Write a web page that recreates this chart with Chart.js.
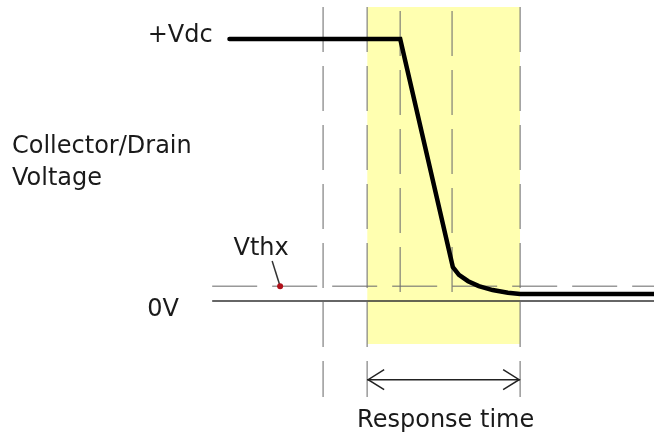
<!DOCTYPE html>
<html>
<head>
<meta charset="utf-8">
<script src="https://cdn.jsdelivr.net/npm/chart.js"></script>
<style>
  body { margin: 0; background: #fff; }
  #wrap { width: 654px; height: 435px; }
</style>
</head>
<body>
<div id="wrap"><canvas id="chart"></canvas></div>
<script>
// time in arbitrary units (response time = 10), voltage normalised (+Vdc = 1)
const waveT = [-9, 2.16, 5.6, 6.0, 6.6, 7.3, 8.2, 9.2, 10, 18.75];
const waveV = [1, 1, 0.13, 0.10, 0.076, 0.057, 0.042, 0.032, 0.027, 0.027];

const markerLong = [-2.88, 0, 10];      // dashed verticals reaching below the box
const markerShort = [2.16, 5.55];       // dashed verticals stopping at 0V
const vthx = 0.057;
const vthxDot = -5.69;
const vthxLabel = [-6.21, 0.153];
const responseStart = 0;
const responseEnd = 10;
const lineStart = -10.13;
const tMin = -24, tMax = 18.75;
const vMin = -0.511, vMax = 1.149;
const boxTop = 1.122, boxBottom = -0.164;
const longBottom = -0.366, shortTop = 1.107;
const arrowV = -0.30;

const labels = {
  vdc: "+Vdc",
  zero: "0V",
  axis: ["Collector/Drain", "Voltage"],
  thx: "Vthx",
  resp: "Response time"
};

const dashCol = "rgba(110,110,110,0.7)";
let datasets = [];

// yellow response window
datasets.push({
  data: [{x: responseStart, y: boxTop}, {x: responseEnd, y: boxTop}],
  fill: {value: boxBottom},
  backgroundColor: "rgb(255,255,176)",
  borderWidth: 0,
  pointRadius: 0,
  order: 10
});

markerLong.forEach(function (t) {
  datasets.push({
    data: [{x: t, y: boxTop}, {x: t, y: longBottom}],
    borderColor: dashCol, borderWidth: 1.5, borderDash: [45, 14],
    pointRadius: 0, order: 6
  });
});
markerShort.forEach(function (t) {
  datasets.push({
    data: [{x: t, y: shortTop}, {x: t, y: 0}],
    borderColor: dashCol, borderWidth: 1.5, borderDash: [45, 14],
    pointRadius: 0, order: 6
  });
});

// Vthx level
datasets.push({
  data: [{x: lineStart, y: vthx}, {x: tMax, y: vthx}],
  borderColor: dashCol, borderWidth: 1.5, borderDash: [45, 15],
  pointRadius: 0, order: 5
});
// 0V line
datasets.push({
  data: [{x: lineStart, y: 0}, {x: tMax, y: 0}],
  borderColor: "#333", borderWidth: 1.5,
  pointRadius: 0, order: 4
});
// waveform
datasets.push({
  data: waveT.map(function (t, i) { return {x: t, y: waveV[i]}; }),
  borderColor: "#000", borderWidth: 4.5, borderCapStyle: "round", borderJoinStyle: "miter",
  pointRadius: 0, tension: 0, order: 1
});
// leader + dot
datasets.push({
  data: [{x: vthxLabel[0], y: vthxLabel[1]}, {x: vthxDot, y: vthx}],
  borderColor: "#333", borderWidth: 1.5, pointRadius: 0, order: 2
});
datasets.push({
  data: [{x: vthxDot, y: vthx}],
  showLine: false, pointRadius: 3, pointBackgroundColor: "#b0101a",
  pointBorderWidth: 0, order: 0
});
// arrow shaft
datasets.push({
  data: [{x: responseStart, y: arrowV}, {x: responseEnd, y: arrowV}],
  borderColor: "#222", borderWidth: 1.5, pointRadius: 0, order: 2
});

const textPlugin = {
  id: "textPlugin",
  afterDraw: function (chart) {
    const ctx = chart.ctx;
    const xs = chart.scales.x, ys = chart.scales.y;
    ctx.save();
    // arrow heads
    ctx.strokeStyle = "#222";
    ctx.lineWidth = 1.5;
    const ay = ys.getPixelForValue(arrowV);
    const ax0 = xs.getPixelForValue(responseStart), ax1 = xs.getPixelForValue(responseEnd);
    ctx.beginPath();
    ctx.moveTo(ax0 + 17, ay - 10); ctx.lineTo(ax0 + 1, ay); ctx.lineTo(ax0 + 17, ay + 10);
    ctx.moveTo(ax1 - 17, ay - 10); ctx.lineTo(ax1 - 1, ay); ctx.lineTo(ax1 - 17, ay + 10);
    ctx.stroke();

    ctx.fillStyle = "#1a1a1a";
    ctx.font = "24px 'DejaVu Sans'";
    ctx.textBaseline = "alphabetic";
    ctx.textAlign = "right";
    ctx.fillText(labels.vdc, xs.getPixelForValue(-10.1), ys.getPixelForValue(1) + 3);
    ctx.fillText(labels.zero, xs.getPixelForValue(-12.3), ys.getPixelForValue(0) + 15);
    ctx.textAlign = "left";
    ctx.fillText(labels.axis[0], 12, 153);
    ctx.fillText(labels.axis[1], 12, 185);
    ctx.textAlign = "center";
    ctx.fillText(labels.thx, xs.getPixelForValue(vthxLabel[0]) - 11, ys.getPixelForValue(vthxLabel[1]) - 6);
    ctx.fillText(labels.resp, (ax0 + ax1) / 2 + 2, ay + 47);
    ctx.restore();
  }
};

new Chart(document.getElementById("chart").getContext("2d"), {
  type: "line",
  data: {datasets: datasets},
  options: {
    responsive: true,
    maintainAspectRatio: false,
    animation: false,
    layout: {padding: 0, autoPadding: false},
    plugins: {legend: {display: false}, tooltip: {enabled: false}},
    elements: {line: {fill: false}},
    scales: {
      x: {type: "linear", min: tMin, max: tMax, display: false},
      y: {type: "linear", min: vMin, max: vMax, display: false}
    }
  },
  plugins: [textPlugin]
});
</script>
</body>
</html>
